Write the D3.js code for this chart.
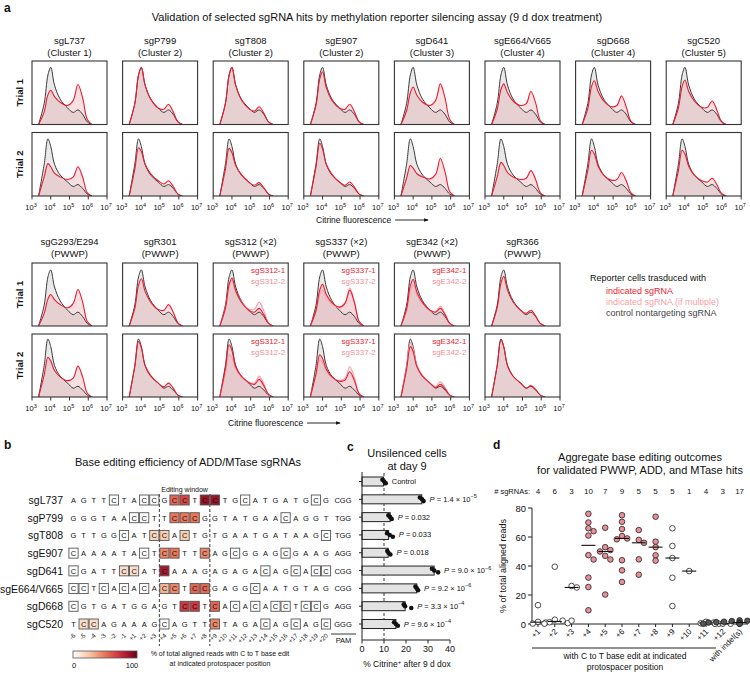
<!DOCTYPE html>
<html><head><meta charset="utf-8">
<script src="https://cdn.jsdelivr.net/npm/d3@7"></script>
<style>body{margin:0;background:#fff} text{font-family:"Liberation Sans",Arial,Helvetica,sans-serif;fill:#111}</style>
</head><body>
<svg id="c" width="750" height="675"></svg>
<script>
// ================= DATA =================
// Panel a: histogram sample grid (log10 citrine fluorescence)
const logGrid = [3.35, 3.65, 3.85, 4.0, 4.2, 4.5, 4.9, 5.2, 5.45, 5.7, 5.95, 6.2];
const xTickExps = [3, 4, 5, 6, 7];
const topGuides = ["sgL737","sgP799","sgT808","sgE907","sgD641","sgE664/V665","sgD668","sgC520"];
const topGroups = ["(Cluster 1)","(Cluster 2)","(Cluster 2)","(Cluster 2)","(Cluster 3)","(Cluster 4)","(Cluster 4)","(Cluster 5)"];
const botGuides = ["sgG293/E294","sgR301","sgS312 (×2)","sgS337 (×2)","sgE342 (×2)","sgR366"];
const botGroups = ["(PWWP)","(PWWP)","(PWWP)","(PWWP)","(PWWP)","(PWWP)"];
const botLegend1 = [null, null, "sgS312-1", "sgS337-1", "sgE342-1", null];
const botLegend2 = [null, null, "sgS312-2", "sgS337-2", "sgE342-2", null];
const trials = ["Trial 1", "Trial 2"];
// control (nontargeting) densities
const ctrlTopT1 = [0, 0.33, 0.78, 0.9, 0.62, 0.4, 0.26, 0.19, 0.23, 0.16, 0.04, 0];
const ctrlTopT2 = [0, 0.5, 0.9, 0.78, 0.5, 0.33, 0.22, 0.15, 0.18, 0.12, 0.03, 0];
const ctrlBotT1 = [0, 0.33, 0.78, 0.89, 0.62, 0.4, 0.25, 0.18, 0.22, 0.15, 0.04, 0];
const ctrlBotT2 = [0, 0.5, 0.92, 0.8, 0.5, 0.33, 0.22, 0.14, 0.17, 0.11, 0.03, 0];
// indicated sgRNA densities
const redTopT1 = [
  [0, 0.2, 0.47, 0.54, 0.44, 0.35, 0.3, 0.38, 0.63, 0.42, 0.08, 0],
  [0, 0.33, 0.78, 0.9, 0.62, 0.4, 0.26, 0.24, 0.32, 0.2, 0.04, 0],
  [0, 0.33, 0.78, 0.9, 0.62, 0.39, 0.25, 0.21, 0.28, 0.18, 0.04, 0],
  [0, 0.3, 0.72, 0.83, 0.58, 0.38, 0.26, 0.24, 0.32, 0.2, 0.04, 0],
  [0, 0.22, 0.5, 0.59, 0.46, 0.35, 0.3, 0.38, 0.64, 0.42, 0.08, 0],
  [0, 0.24, 0.55, 0.64, 0.5, 0.37, 0.3, 0.33, 0.52, 0.34, 0.06, 0],
  [0, 0.25, 0.6, 0.69, 0.52, 0.37, 0.28, 0.3, 0.45, 0.28, 0.05, 0],
  [0, 0.26, 0.6, 0.7, 0.52, 0.37, 0.27, 0.27, 0.37, 0.23, 0.05, 0]];
const redTopT2 = [
  [0, 0.3, 0.51, 0.46, 0.36, 0.3, 0.26, 0.3, 0.46, 0.3, 0.05, 0],
  [0, 0.42, 0.76, 0.7, 0.5, 0.35, 0.24, 0.19, 0.24, 0.15, 0.03, 0],
  [0, 0.42, 0.75, 0.68, 0.48, 0.34, 0.22, 0.17, 0.21, 0.13, 0.03, 0],
  [0, 0.46, 0.83, 0.74, 0.5, 0.34, 0.22, 0.17, 0.22, 0.14, 0.03, 0],
  [0, 0.28, 0.48, 0.44, 0.35, 0.3, 0.27, 0.34, 0.59, 0.38, 0.07, 0],
  [0, 0.3, 0.53, 0.48, 0.37, 0.3, 0.26, 0.28, 0.4, 0.26, 0.05, 0],
  [0, 0.4, 0.72, 0.66, 0.47, 0.33, 0.25, 0.26, 0.37, 0.24, 0.05, 0],
  [0, 0.4, 0.72, 0.66, 0.47, 0.33, 0.24, 0.22, 0.28, 0.18, 0.04, 0]];
const redBotT1 = [
  [0, 0.2, 0.43, 0.5, 0.42, 0.34, 0.29, 0.36, 0.58, 0.38, 0.07, 0],
  [0, 0.28, 0.65, 0.75, 0.55, 0.38, 0.26, 0.25, 0.34, 0.22, 0.05, 0],
  [0, 0.28, 0.66, 0.76, 0.56, 0.38, 0.25, 0.22, 0.28, 0.18, 0.04, 0],
  [0, 0.25, 0.57, 0.66, 0.5, 0.37, 0.3, 0.36, 0.57, 0.37, 0.07, 0],
  [0, 0.27, 0.64, 0.74, 0.54, 0.37, 0.25, 0.22, 0.28, 0.18, 0.04, 0],
  [0, 0.29, 0.68, 0.79, 0.57, 0.38, 0.25, 0.2, 0.25, 0.16, 0.04, 0]];
const redBotT2 = [
  [0, 0.35, 0.63, 0.57, 0.42, 0.32, 0.26, 0.3, 0.49, 0.32, 0.06, 0],
  [0, 0.48, 0.88, 0.78, 0.5, 0.34, 0.22, 0.16, 0.22, 0.14, 0.03, 0],
  [0, 0.45, 0.83, 0.74, 0.48, 0.33, 0.23, 0.2, 0.28, 0.18, 0.04, 0],
  [0, 0.37, 0.67, 0.61, 0.44, 0.32, 0.25, 0.27, 0.4, 0.26, 0.05, 0],
  [0, 0.44, 0.8, 0.72, 0.48, 0.33, 0.22, 0.15, 0.2, 0.13, 0.03, 0],
  [0, 0.5, 0.91, 0.8, 0.5, 0.33, 0.22, 0.14, 0.18, 0.12, 0.03, 0]];
// second sgRNA (if multiple)
const pinkBotT1 = [null, null,
  [0, 0.27, 0.63, 0.73, 0.54, 0.38, 0.27, 0.27, 0.38, 0.24, 0.05, 0],
  [0, 0.22, 0.5, 0.57, 0.45, 0.35, 0.3, 0.37, 0.6, 0.39, 0.07, 0],
  [0, 0.24, 0.56, 0.65, 0.5, 0.36, 0.25, 0.23, 0.31, 0.2, 0.04, 0], null];
const pinkBotT2 = [null, null,
  [0, 0.37, 0.67, 0.62, 0.44, 0.32, 0.23, 0.22, 0.33, 0.21, 0.04, 0],
  [0, 0.33, 0.59, 0.55, 0.41, 0.31, 0.26, 0.3, 0.48, 0.31, 0.06, 0],
  [0, 0.47, 0.86, 0.76, 0.5, 0.34, 0.22, 0.17, 0.24, 0.15, 0.03, 0], null];
const legendItems = ["indicated sgRNA", "indicated sgRNA (if multiple)", "control nontargeting sgRNA"];

// Panel b
const guidesB = ["sgL737","sgP799","sgT808","sgE907","sgD641","sgE664/V665","sgD668","sgC520"];
const seqs = ["AGTTCTACCGCCTCCTGCATGATGCG","GGGTAACCTTCCCGGTATGAACAGGT","GTTGGCATCCACTGTGAATGATAAGC",
  "CAAAATACTCCTTCAGCGGAGCGAAG","CGATTCCATCAAAGAGAGACAGCACC","CCTCACACACCTCCGAGGCAATGTAG",
  "CGTGATGGAGTCCTCACACACCTCCG","TCCAGAAAGCAGTTCTAGACAGCAGC"];
const pams = ["CGG","TGG","TGG","AGG","CGG","CGG","AGG","GGG"];
const positions = ["-6","-5","-4","-3","-2","-1","+1","+2","+3","+4","+5","+6","+7","+8","+9","+10","+11","+12","+13","+14","+15","+16","+17","+18","+19","+20"];
// [position label, % C->T edited reads]
const edits = [
  [["+5",55],["+6",65],["+8",88],["+9",88]],
  [["+5",50],["+6",50],["+7",50]],
  [["+3",18],["+4",22],["+6",22]],
  [["+4",45],["+5",50],["+8",45]],
  [["-1",15],["+1",15],["+4",85]],
  [["+4",30],["+5",45],["+7",55],["+8",55]],
  [["+6",70],["+7",70],["+9",55]],
  [["-5",15],["-4",15],["+9",45]]];
const editWindow = ["+4", "+8"];
const colorStops = [0, 25, 50, 75, 100];
const colorRange = ["#ffffff", "#f8c8a6", "#e8765a", "#c8283a", "#6e0019"];

// Panel c
const cRows = ["Control","sgL737","sgP799","sgT808","sgE907","sgD641","sgE664/V665","sgD668","sgC520"];
const cMeans = [9.8, 27.2, 12.8, 12.1, 11.9, 32.8, 24.9, 19.6, 15.4];
const cReps = [[9.3,10.1,10.8],[26.3,27.3,28.0],[12.0,12.8,13.5],[11.4,12.6,14.0],[11.5,12.0,12.9],
  [31.8,32.8,34.6],[24.3,24.9,25.5],[19.0,19.6,22.4],[14.6,15.4,16.3]];
const cLabels = ["Control", null, null, null, null, null, null, null, null];
const pMant = [null,"1.4","0.032","0.033","0.018","9.0","9.2","3.3","9.6"];
const pExp = [null,"−5",null,null,null,"−6","−6","−4","−4"];
const cTicks = [0, 10, 20, 30, 40];
const cCutoff = 10;

// Panel d
const dCats = ["+1","+2","+3","+4","+5","+6","+7","+8","+9","+10","+11","+12","with indel(s)"];
const dVals = [[13,1.5,1,0.3],[39.5,3,2.3,1.2,0.6,0.2],[26.2,25.2,2.3],
  [76,70,66,64,61,47.5,44.5,32,25.5,9.5],[66.4,53,51,50,47,44.5,20.3],
  [75,70.5,65.5,60.7,59,58.4,44,37,29],[64.8,58,56,44.6,34],[74,56.8,53,47.4,43.7],
  [66,53.8,45.5,31.9,12.4],[36.5],[1.5,1,0.5,0.2],[0.3,0.2,0.1],
  [2.5,2.2,2,1.8,1.6,1.5,1.3,1.2,1,0.9,0.8,0.6,0.5,0.4,0.3,0.2,0.1]];
const dFill = ["w","w","w","p","p","p","p","p","w","w","w","w","k"];
const dTicks = [0, 20, 40, 60, 80];

// ================= DRAW =================
const svg = d3.select("#c");
const RED = "#ec1c30", PINK = "#f7a3ab", GRAY = "#3a3a3a";
function T(x, y, s, o = {}) {
  const t = svg.append("text").attr("x", x).attr("y", y).text(s)
    .attr("font-size", o.fs || 9).attr("text-anchor", o.a || "start");
  if (o.w) t.attr("font-weight", o.w);
  if (o.fill) t.style("fill", o.fill);
  if (o.rot != null) t.attr("transform", `rotate(${o.rot},${x},${y})`);
  return t;
}
const defs = svg.append("defs");
defs.append("marker").attr("id","arr").attr("viewBox","0 0 10 10").attr("refX",9).attr("refY",5)
  .attr("markerWidth",5).attr("markerHeight",5).attr("orient","auto")
  .append("path").attr("d","M0,1L10,5L0,9z").attr("fill","#111");

// ---- panel a ----
T(4, 12, "a", {fs: 12, w: "bold"});
T(377, 21, "Validation of selected sgRNA hits by methylation reporter silencing assay (9 d dox treatment)", {fs: 11, a: "middle"});
const boxW = 75, colX = i => 32 + i * 90.6;
let clipN = 0;
function hist(x0, y0, h, ctrl, red, pink, l1, l2, showTicks) {
  const xs = d3.scaleLog().domain([1e3, 1e7]).range([x0, x0 + boxW]);
  const ys = d3.scaleLinear().domain([0, 1]).range([y0 + h, y0]);
  const pts = a => a.map((v, i) => [Math.pow(10, logGrid[i]), v]);
  const cv = d3.curveCatmullRom.alpha(0.5);
  const area = d3.area().x(d => xs(d[0])).y0(ys(0)).y1(d => ys(d[1])).curve(cv);
  const line = d3.line().x(d => xs(d[0])).y(d => ys(d[1])).curve(cv);
  const id = "clip" + (clipN++);
  defs.append("clipPath").attr("id", id).append("rect").attr("x", x0).attr("y", y0).attr("width", boxW).attr("height", h);
  const g = svg.append("g").attr("clip-path", `url(#${id})`);
  g.append("path").attr("d", area(pts(ctrl))).attr("fill", "#e2e2e2").attr("fill-opacity", 0.75);
  g.append("path").attr("d", area(pts(red))).attr("fill", "#dc8b95").attr("fill-opacity", 0.27);
  if (pink) g.append("path").attr("d", area(pts(pink))).attr("fill", "#f0b0b7").attr("fill-opacity", 0.18);
  g.append("path").attr("d", line(pts(ctrl))).attr("fill", "none").attr("stroke", GRAY).attr("stroke-width", 1);
  if (pink) g.append("path").attr("d", line(pts(pink))).attr("fill", "none").attr("stroke", PINK).attr("stroke-width", 1.2);
  g.append("path").attr("d", line(pts(red))).attr("fill", "none").attr("stroke", RED).attr("stroke-width", 1.1);
  svg.append("rect").attr("x", x0).attr("y", y0).attr("width", boxW).attr("height", h)
    .attr("fill", "none").attr("stroke", "#333").attr("stroke-width", 1.1);
  if (l1) {
    T(x0 + boxW - 3, y0 + 10, l1, {fs: 8, a: "end", fill: RED});
    T(x0 + boxW - 3, y0 + 21, l2, {fs: 8, a: "end", fill: "#f48f99"});
  }
  if (showTicks) {
    xTickExps.forEach(e => {
      const x = xs(Math.pow(10, e));
      svg.append("line").attr("x1", x).attr("x2", x).attr("y1", y0 + h).attr("y2", y0 + h + 3.5)
        .attr("stroke", "#333").attr("stroke-width", 1);
      const t = T(x - 1, y0 + h + 14, "10", {fs: 7.5, a: "middle"});
      t.append("tspan").attr("font-size", 5.5).attr("dy", -3.5).text(e);
    });
  }
}
function titleCol(x, y, l1, l2) {
  T(x, y, l1, {fs: 9.5, a: "middle"});
  T(x, y + 12, l2, {fs: 9.5, a: "middle"});
}
// top block
const topY = [61, 132.5], topH = 63.5;
topGuides.forEach((g, i) => {
  titleCol(colX(i) + boxW / 2, 44, g, topGroups[i]);
  hist(colX(i), topY[0], topH, ctrlTopT1, redTopT1[i], null, null, null, false);
  hist(colX(i), topY[1], topH, ctrlTopT2, redTopT2[i], null, null, null, true);
});
trials.forEach((t, k) => T(23, topY[k] + topH / 2, t, {fs: 9.5, w: "bold", a: "middle", rot: -90}));
function axisTitle(x, y) {
  const t = T(x, y, "Citrine fluorescence", {fs: 8.5});
  const w = t.node().getComputedTextLength();
  svg.append("line").attr("x1", x + w + 4).attr("x2", x + w + 37).attr("y1", y - 3).attr("y2", y - 3)
    .attr("stroke", "#111").attr("stroke-width", 0.9).attr("marker-end", "url(#arr)");
}
axisTitle(316, 223);
// bottom block
const botY = [263, 334], botH = 63;
botGuides.forEach((g, i) => {
  titleCol(colX(i) + boxW / 2, 245, g, botGroups[i]);
  hist(colX(i), botY[0], botH, ctrlBotT1, redBotT1[i], pinkBotT1[i], botLegend1[i], botLegend2[i], false);
  hist(colX(i), botY[1], botH, ctrlBotT2, redBotT2[i], pinkBotT2[i], botLegend1[i], botLegend2[i], true);
});
trials.forEach((t, k) => T(23, botY[k] + botH / 2, t, {fs: 9.5, w: "bold", a: "middle", rot: -90}));
axisTitle(228, 426);
// legend
T(590, 281, "Reporter cells trasduced with", {fs: 9});
[RED, "#f7a0a8", "#444"].forEach((c, i) => T(606, 294 + i * 11, legendItems[i], {fs: 9, fill: c}));

// ---- panel b ----
T(4, 449, "b", {fs: 12, w: "bold"});
T(188, 466, "Base editing efficiency of ADD/MTase sgRNAs", {fs: 11, a: "middle"});
const nx = d3.scalePoint().domain(positions).range([73.5, 326]);
const ny = d3.scalePoint().domain(guidesB).range([500, 624]);
const col = d3.scaleLinear().domain(colorStops).range(colorRange);
const step = nx.step();
const dl = [nx(editWindow[0]) - step / 2, nx(editWindow[1]) + step / 2];
T((dl[0] + dl[1]) / 2, 491.5, "Editing window", {fs: 7, a: "middle"});
dl.forEach(x => svg.append("line").attr("x1", x).attr("x2", x).attr("y1", 494).attr("y2", 646)
  .attr("stroke", "#222").attr("stroke-width", 0.9).attr("stroke-dasharray", "3,2"));
guidesB.forEach((g, r) => {
  const y = ny(g);
  T(63, y + 4, g, {fs: 10.5, a: "end"});
  const ed = new Map(edits[r]);
  seqs[r].split("").forEach((ch, i) => {
    const p = positions[i], x = nx(p);
    if (ch === "C") {
      svg.append("rect").attr("x", x - 4.6).attr("y", y - 5).attr("width", 9.2).attr("height", 10)
        .attr("fill", col(ed.get(p) || 0)).attr("stroke", "#555").attr("stroke-width", 0.9);
    }
    T(x, y + 2.8, ch, {fs: 7.5, a: "middle"});
  });
  T(343, y + 2.8, pams[r], {fs: 7.5, a: "middle"});
});
positions.forEach(p => T(nx(p) + 2.5, 636, p, {fs: 6.3, a: "end", rot: -45}));
svg.append("line").attr("x1", 331).attr("x2", 356).attr("y1", 634).attr("y2", 634).attr("stroke", "#222").attr("stroke-width", 0.9);
T(343.5, 643, "PAM", {fs: 7.5, a: "middle"});
// colorbar
const grad = defs.append("linearGradient").attr("id", "cg");
colorStops.forEach((s, i) => grad.append("stop").attr("offset", s + "%").attr("stop-color", colorRange[i]));
const cb = d3.scaleLinear().domain([0, 100]).range([73, 137]);
svg.append("rect").attr("x", cb(0)).attr("y", 651).attr("width", cb(100) - cb(0)).attr("height", 7)
  .attr("fill", "url(#cg)").attr("stroke", "#555").attr("stroke-width", 0.8);
[0, 100].forEach(v => T(cb(v) + (v ? -5 : 1), 668, String(v), {fs: 7.5, a: "middle"}));
T(220, 656, "% of total aligned reads with C to T base edit", {fs: 7, a: "middle"});
T(220, 666, "at indicated protospacer position", {fs: 7, a: "middle"});

// ---- panel c ----
T(347, 451, "c", {fs: 12, w: "bold"});
T(407, 457, "Unsilenced cells", {fs: 11, a: "middle"});
T(407, 470, "at day 9", {fs: 11, a: "middle"});
const cx = d3.scaleLinear().domain([0, 40]).range([362, 450]);
const cy = d3.scalePoint().domain(cRows).range([481.5, 624]);
const barH = 9;
svg.append("line").attr("x1", cx(cCutoff)).attr("x2", cx(cCutoff)).attr("y1", 473).attr("y2", 640)
  .attr("stroke", "#222").attr("stroke-width", 0.9).attr("stroke-dasharray", "3,2");
cRows.forEach((r, i) => {
  const y = cy(r);
  svg.append("rect").attr("x", cx(0)).attr("y", y - barH / 2).attr("width", cx(cMeans[i]) - cx(0)).attr("height", barH)
    .attr("fill", "#e3e3e3").attr("stroke", "#222").attr("stroke-width", 1);
  cReps[i].forEach((v, j) => svg.append("circle").attr("cx", cx(v)).attr("cy", y + (j - 1) * 1.8).attr("r", 2.3).attr("fill", "#111"));
  const lx = cx(d3.max(cReps[i])) + 6;
  if (cLabels[i]) T(lx, y + 2.5, cLabels[i], {fs: 7.5});
  if (pMant[i]) {
    const t = T(lx, y + 2.5, "", {fs: 7.5});
    t.append("tspan").attr("font-style", "italic").text("P");
    t.append("tspan").text(" = " + pMant[i] + (pExp[i] ? " × 10" : ""));
    if (pExp[i]) t.append("tspan").attr("font-size", 5.5).attr("dy", -3.5).text(pExp[i]);
  }
  svg.append("line").attr("x1", cx(0) - 3).attr("x2", cx(0)).attr("y1", y).attr("y2", y).attr("stroke", "#222");
});
svg.append("line").attr("x1", cx(0)).attr("x2", cx(0)).attr("y1", 472).attr("y2", 640).attr("stroke", "#222").attr("stroke-width", 1);
svg.append("line").attr("x1", cx(0)).attr("x2", cx(40)).attr("y1", 640).attr("y2", 640).attr("stroke", "#222").attr("stroke-width", 1);
cTicks.forEach(v => {
  svg.append("line").attr("x1", cx(v)).attr("x2", cx(v)).attr("y1", 640).attr("y2", 643.5).attr("stroke", "#222");
  T(cx(v), 652, String(v), {fs: 9, a: "middle"});
});
{
  const t = T(407, 667, "% Citrine", {fs: 8.5, a: "middle"});
  t.append("tspan").attr("font-size", 6).attr("dy", -3).text("+");
  t.append("tspan").attr("dy", 3).text(" after 9 d dox");
}

// ---- panel d ----
T(493, 449, "d", {fs: 12, w: "bold"});
T(640, 461, "Aggregate base editing outcomes", {fs: 11, a: "middle"});
T(640, 474, "for validated PWWP, ADD, and MTase hits", {fs: 11, a: "middle"});
const dx = d3.scalePoint().domain(dCats).range([538, 739.6]);
const dy = d3.scaleLinear().domain([0, 80]).range([624, 508]);
T(530, 494, "# sgRNAs:", {fs: 7.5, a: "end"});
dCats.forEach((c, i) => T(dx(c), 494, String(dVals[i].length), {fs: 8, a: "middle"}));
svg.append("line").attr("x1", 532).attr("x2", 532).attr("y1", dy(80)).attr("y2", dy(0)).attr("stroke", "#222");
svg.append("line").attr("x1", 532).attr("x2", 748).attr("y1", dy(0)).attr("y2", dy(0)).attr("stroke", "#222");
dTicks.forEach(v => {
  svg.append("line").attr("x1", 528).attr("x2", 532).attr("y1", dy(v)).attr("y2", dy(v)).attr("stroke", "#222");
  T(526, dy(v) + 3.5, String(v), {fs: 9.5, a: "end"});
});
T(506, 566, "% of total aligned reads", {fs: 9, a: "middle", rot: -90});
const R = 2.8;
dCats.forEach((c, i) => {
  const bx = dx(c);
  svg.append("line").attr("x1", bx).attr("x2", bx).attr("y1", dy(0)).attr("y2", dy(0) + 3).attr("stroke", "#222");
  T(bx + 3, 632, c, {fs: 8, a: "end", rot: -45});
  const placed = [];
  const vals = dVals[i].slice().sort((a, b) => b - a);
  vals.forEach(v => {
    const y = dy(v);
    let x = bx;
    for (let k = 0; k < 30; k++) {
      const off = (k % 2 ? 1 : -1) * Math.ceil(k / 2) * 2.6;
      const tx = bx + off;
      if (placed.every(p => Math.hypot(p[0] - tx, p[1] - y) >= 2 * R * 0.95)) { x = tx; break; }
    }
    placed.push([x, y]);
  });
  const fills = {w: "#ffffff", p: "#e88f98", k: "#555"};
  placed.forEach(p => svg.append("circle").attr("cx", p[0]).attr("cy", p[1]).attr("r", R)
    .attr("fill", fills[dFill[i]]).attr("stroke", "#222").attr("stroke-width", 0.8));
  const m = d3.median(dVals[i]);
  svg.append("line").attr("x1", bx - 7).attr("x2", bx + 7).attr("y1", dy(m)).attr("y2", dy(m)).attr("stroke", "#111").attr("stroke-width", 1.1);
});
svg.append("line").attr("x1", 532).attr("x2", 716).attr("y1", 648).attr("y2", 648).attr("stroke", "#222");
T(625, 659, "with C to T base edit at indicated", {fs: 8.5, a: "middle"});
T(625, 670, "protospacer position", {fs: 8.5, a: "middle"});
</script></body></html>
